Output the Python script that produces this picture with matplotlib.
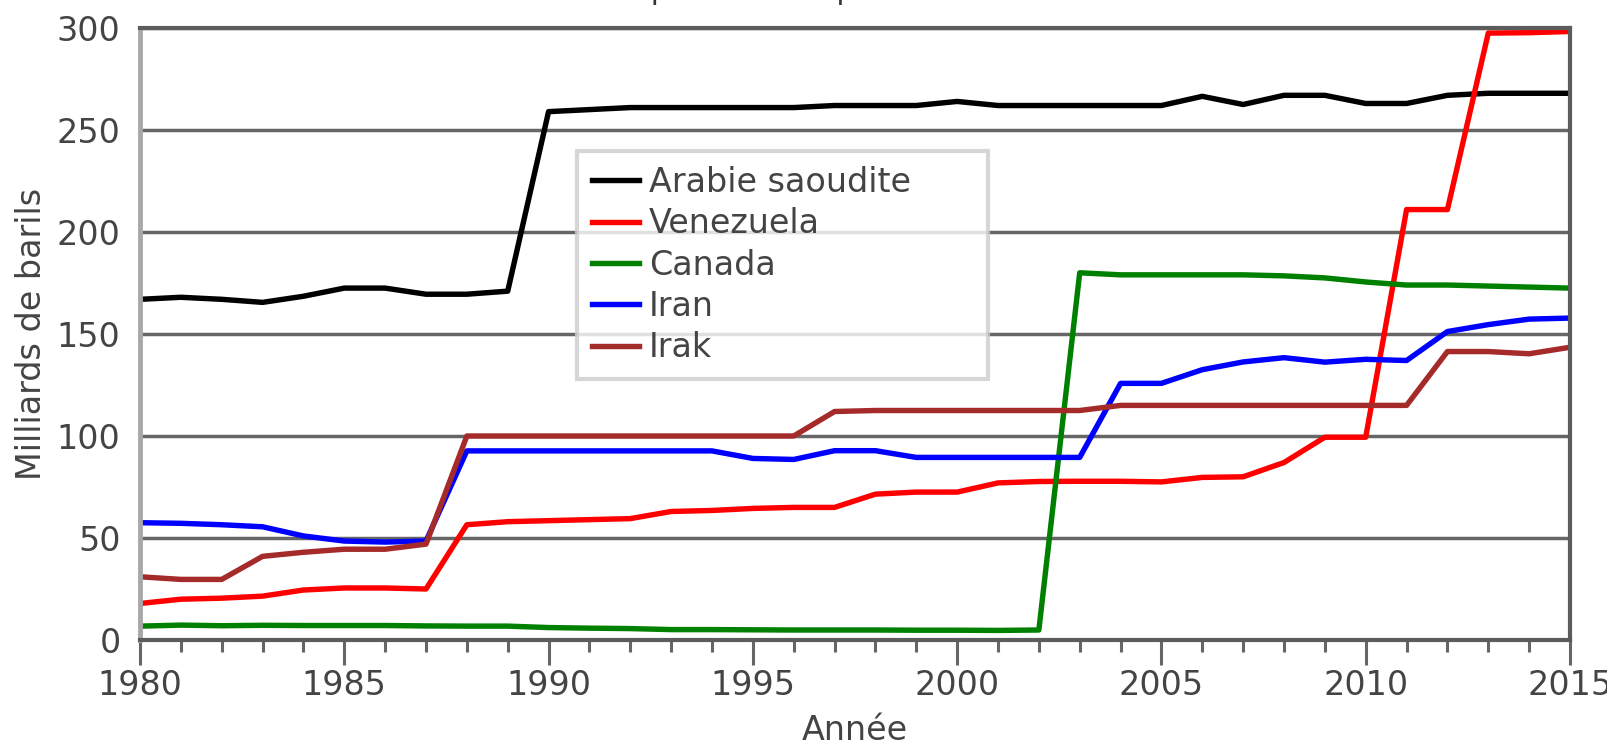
import matplotlib
matplotlib.use("Agg")
import matplotlib.pyplot as plt
from matplotlib.ticker import MultipleLocator

# données (milliards de barils)
annees = list(range(1980, 2016))
arabie = [167, 168, 167, 165.5, 168.5, 172.5, 172.5, 169.5, 169.5, 171,
          259, 260, 261, 261, 261, 261, 261, 262, 262, 262,
          264, 262, 262, 262, 262, 262, 266.5, 262.5, 267, 267,
          263, 263, 267, 268, 268, 268]
venezuela = [17.9, 20, 20.5, 21.5, 24.5, 25.5, 25.5, 25, 56.5, 58,
             58.5, 59, 59.5, 63, 63.5, 64.5, 65, 65, 71.5, 72.5,
             72.5, 77, 77.7, 77.8, 77.8, 77.5, 79.7, 80, 87, 99.4,
             99.4, 211, 211, 297.5, 297.7, 298.3]
canada = [6.8, 7.3, 7.0, 7.2, 7.1, 7.1, 7.1, 6.9, 6.8, 6.8,
          6.1, 5.8, 5.6, 5.1, 5.1, 5.0, 4.9, 4.9, 4.9, 4.8,
          4.8, 4.7, 4.9, 180, 179, 179, 179, 179, 178.5, 177.5,
          175.5, 174, 174, 173.5, 173, 172.5]
iran = [57.5, 57.2, 56.5, 55.5, 51, 48.5, 48, 48.5, 92.7, 92.7,
        92.7, 92.7, 92.7, 92.7, 92.7, 89, 88.5, 92.8, 92.8, 89.5,
        89.5, 89.5, 89.5, 89.5, 125.8, 125.8, 132.5, 136.3, 138.4, 136.2,
        137.6, 137, 151.2, 154.6, 157.3, 157.8]
irak = [31, 29.7, 29.7, 41, 43, 44.5, 44.5, 47, 100, 100,
        100, 100, 100, 100, 100, 100, 100, 112, 112.5, 112.5,
        112.5, 112.5, 112.5, 112.5, 115, 115, 115, 115, 115, 115,
        115, 115, 141.4, 141.4, 140.3, 143.5]

series = [
    ("Arabie saoudite", arabie, "#000000"),
    ("Venezuela", venezuela, "#ff0000"),
    ("Canada", canada, "#008000"),
    ("Iran", iran, "#0000ff"),
    ("Irak", irak, "#a52a2a"),
]

txt = "#444444"
grille = "#666666"
fs = 24

fig = plt.figure(figsize=(16.08, 7.42), dpi=100)
ax = fig.add_axes([140 / 1608, 102 / 742, 1430 / 1608, 612 / 742])

for nom, vals, col in series:
    ax.plot(annees, vals, color=col, lw=3.9, label=nom)

ax.set_xlim(1980, 2015)
ax.set_ylim(0, 300)
ax.xaxis.set_major_locator(MultipleLocator(5))
ax.xaxis.set_minor_locator(MultipleLocator(1))
ax.yaxis.set_major_locator(MultipleLocator(50))

ax.grid(axis="y", color=grille, lw=2.5)
ax.set_axisbelow(True)

for s in ["top", "right", "bottom"]:
    ax.spines[s].set_color("#5c5c5c")
    ax.spines[s].set_linewidth(3)
ax.spines["left"].set_color("#a8a8a8")
ax.spines["left"].set_linewidth(3.5)

ax.tick_params(axis="x", which="major", length=18, width=2.2, color="#666666",
               labelsize=fs, labelcolor=txt, pad=3)
ax.tick_params(axis="x", which="minor", length=8.5, width=2.2, color="#666666")
ax.tick_params(axis="y", length=0, labelsize=fs, labelcolor=txt, pad=14)

ax.set_ylabel("Milliards de barils", fontsize=fs, color=txt)
ax.yaxis.set_label_coords(-0.064, 0.5)
ax.set_xlabel("Année", fontsize=fs, color=txt)
ax.xaxis.set_label_coords(0.5, -0.121)

leg = ax.legend(loc="upper left", bbox_to_anchor=(0.3056, 0.4395, 0.2874, 0.3595),
                mode="expand", fontsize=fs, frameon=True, fancybox=False,
                handlelength=1.4, handletextpad=0.3, labelspacing=0.25,
                borderpad=0.45, borderaxespad=0)
leg.get_frame().set_edgecolor("#cccccc")
leg.get_frame().set_linewidth(3)
for t in leg.get_texts():
    t.set_color(txt)

# titre coupé par le haut de l'image
fig.text(512 / 1608, 1.0015, "Réserves prouvées de pétrole", fontsize=20.5,
         color="#333333", ha="left", va="baseline")

fig.savefig("out.png", dpi=100)
